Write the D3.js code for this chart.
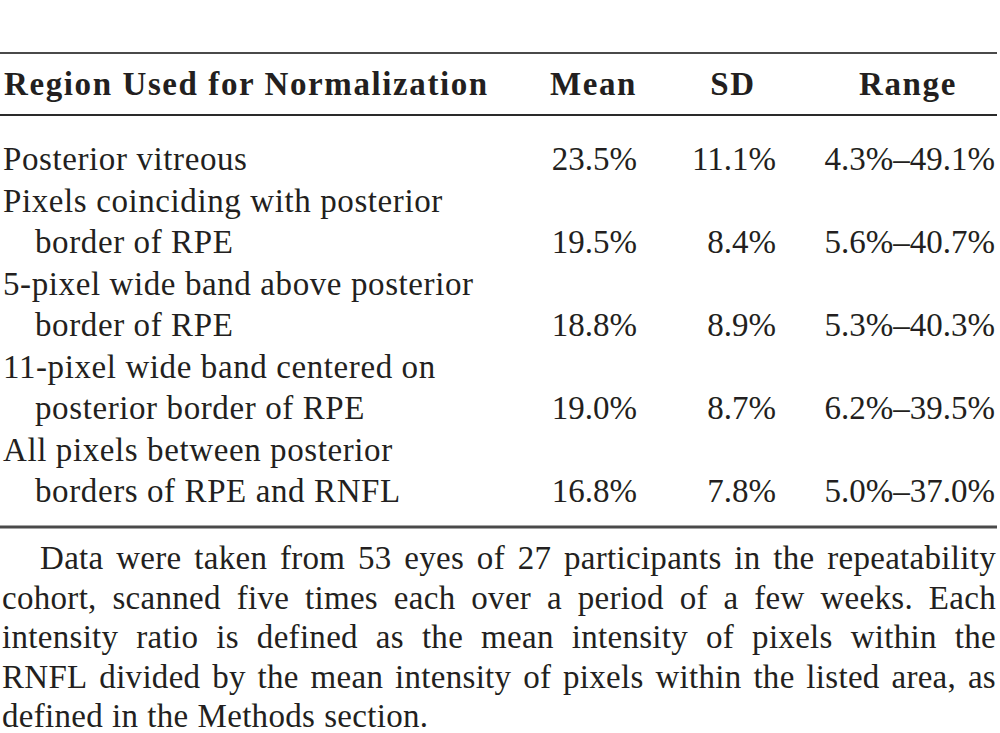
<!DOCTYPE html>
<html>
<head>
<meta charset="utf-8">
<script src="https://cdn.jsdelivr.net/npm/d3@7"></script>
<style>
  html, body { margin: 0; padding: 0; background: #fff; }
  svg { display: block; }
</style>
</head>
<body>
<svg id="chart" width="1000" height="733"></svg>
<script>
// ---- data ----
const headers = ["Region Used for Normalization", "Mean", "SD", "Range"];
const regions = [
  ["Posterior vitreous"],
  ["Pixels coinciding with posterior", "border of RPE"],
  ["5-pixel wide band above posterior", "border of RPE"],
  ["11-pixel wide band centered on", "posterior border of RPE"],
  ["All pixels between posterior", "borders of RPE and RNFL"]
];
const means = [23.5, 19.5, 18.8, 19.0, 16.8];
const sds = [11.1, 8.4, 8.9, 8.7, 7.8];
const rangeLow = [4.3, 5.6, 5.3, 6.2, 5.0];
const rangeHigh = [49.1, 40.7, 40.3, 39.5, 37.0];
const noteLines = [
  "Data were taken from 53 eyes of 27 participants in the repeatability",
  "cohort, scanned five times each over a period of a few weeks. Each",
  "intensity ratio is defined as the mean intensity of pixels within the",
  "RNFL divided by the mean intensity of pixels within the listed area, as",
  "defined in the Methods section."
];

// ---- layout ----
const svg = d3.select("#chart");
const ink = "#231f20";
const font = "'Liberation Serif', 'Times New Roman', serif";
const fmt = v => d3.format(".1f")(v) + "%";

// line index -> baseline
const yLine = d3.scaleLinear().domain([0, 8]).range([170, 502]);
const yNote = d3.scaleLinear().domain([0, 4]).range([569, 727]);

// rules
const rules = [
  { y: 53, w: 2, c: "#4a4a4a" },
  { y: 115, w: 2, c: "#2a2a2a" },
  { y: 527, w: 3, c: "#4a4a4a" }
];
svg.selectAll("line.rule").data(rules).join("line")
  .attr("class", "rule")
  .attr("x1", 0).attr("x2", 997)
  .attr("y1", d => d.y).attr("y2", d => d.y)
  .attr("stroke", d => d.c).attr("stroke-width", d => d.w);

// header
const headerPos = [
  { x: 4, anchor: "start" },
  { x: 637, anchor: "end" },
  { x: 733, anchor: "middle" },
  { x: 908, anchor: "middle" }
];
svg.selectAll("text.hdr").data(headers).join("text")
  .attr("class", "hdr")
  .attr("x", (d, i) => headerPos[i].x)
  .attr("y", 95)
  .attr("text-anchor", (d, i) => headerPos[i].anchor)
  .attr("font-family", font)
  .attr("font-weight", "bold")
  .attr("font-size", 33)
  .attr("letter-spacing", "1.6px")
  .attr("fill", ink)
  .text(d => d);

// body rows
let lineIdx = 0;
const rowData = regions.map((lines, i) => {
  const start = lineIdx;
  lineIdx += lines.length;
  return { lines, start, last: lineIdx - 1, mean: means[i], sd: sds[i], lo: rangeLow[i], hi: rangeHigh[i] };
});

const labelLines = rowData.flatMap(r => r.lines.map((t, j) => ({ t, idx: r.start + j, cont: j > 0 })));
svg.selectAll("text.lbl").data(labelLines).join("text")
  .attr("class", "lbl")
  .attr("x", d => d.cont ? 35 : 3)
  .attr("y", d => yLine(d.idx))
  .attr("font-family", font)
  .attr("font-size", 33)
  .attr("letter-spacing", "0.6px")
  .attr("fill", ink)
  .text(d => d.t);

const valueCols = [
  { x: 637, get: r => fmt(r.mean) },
  { x: 776, get: r => fmt(r.sd) },
  { x: 995, get: r => fmt(r.lo) + "\u2013" + fmt(r.hi) }
];
valueCols.forEach((col, ci) => {
  svg.selectAll("text.val" + ci).data(rowData).join("text")
    .attr("class", "val" + ci)
    .attr("x", col.x)
    .attr("y", r => yLine(r.last))
    .attr("text-anchor", "end")
    .attr("font-family", font)
    .attr("font-size", 33)
    .attr("fill", ink)
    .text(col.get);
});

// footnote (justified)
const noteLeft = [40, 2, 2, 2, 2];
const noteRight = 996;
noteLines.forEach((line, i) => {
  const g = svg.append("g");
  const words = line.split(" ");
  const justify = i < noteLines.length - 1;
  const texts = g.selectAll("text").data(words).join("text")
    .attr("y", yNote(i))
    .attr("font-family", font)
    .attr("font-size", 33)
    .attr("letter-spacing", "0.3px")
    .attr("fill", ink)
    .text(d => d);
  const widths = [];
  texts.each(function () { widths.push(this.getComputedTextLength()); });
  const total = d3.sum(widths);
  const avail = noteRight - noteLeft[i];
  const gap = justify ? (avail - total) / (words.length - 1) : 9;
  let x = noteLeft[i];
  texts.each(function (d, k) {
    d3.select(this).attr("x", x);
    x += widths[k] + gap;
  });
});
</script>
</body>
</html>
